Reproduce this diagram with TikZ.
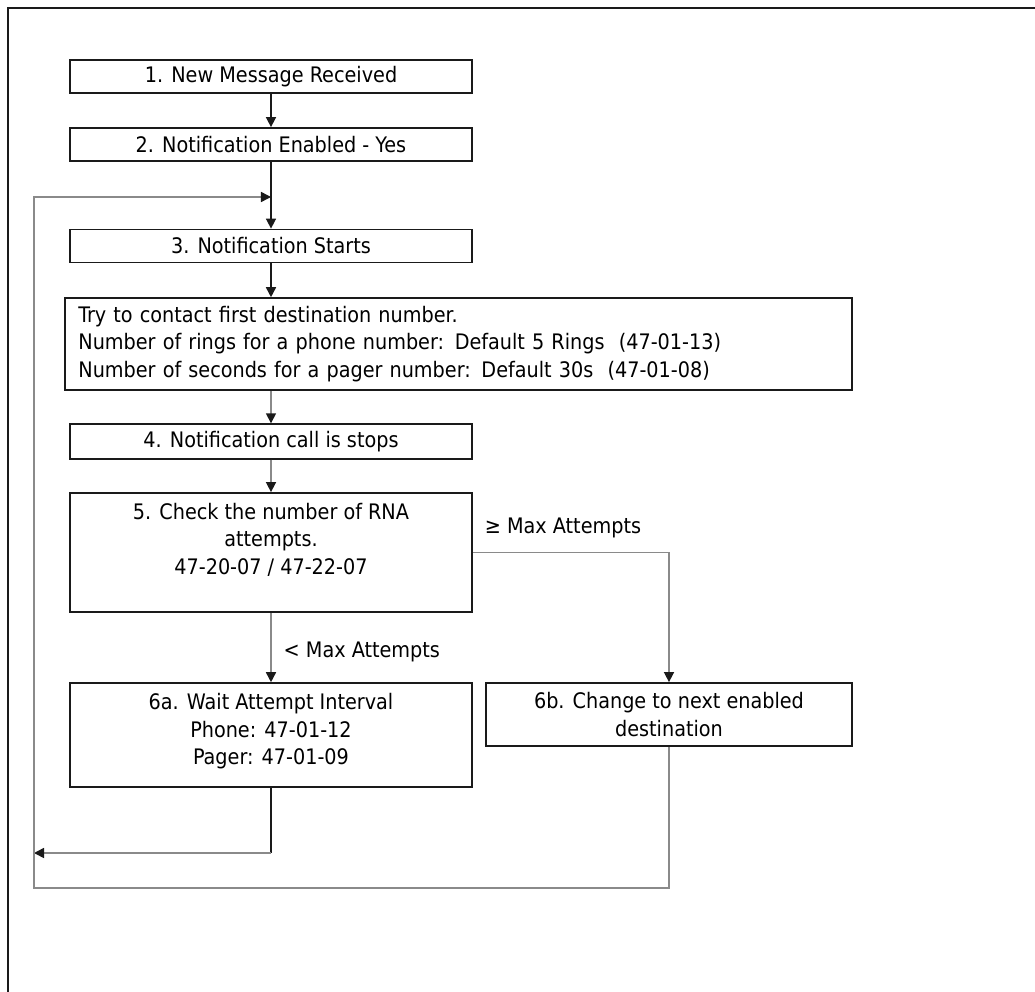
\documentclass[tikz,border=0pt]{standalone}
\usepackage{fontspec}
\setmainfont{DejaVu Sans Condensed}
\usepackage{tikz}
\usetikzlibrary{arrows.meta,calc,positioning}
\definecolor{boxline}{HTML}{1A1A1A}
\definecolor{linkgray}{HTML}{8A8A8A}

\begin{document}
\begin{tikzpicture}[x=0.025cm,y=-0.025cm,
      stepbox/.style={draw=boxline,line width=1.1pt,minimum width=10.05cm,minimum height=0.83cm,inner sep=0pt,align=center,font=\fontsize{15.2}{19.6}\selectfont},
      arr/.style={-{Triangle[length=2.5mm,width=2.5mm]},line width=1.1pt,color=boxline},
      arrg/.style={-{Triangle[length=2.5mm,width=2.5mm,color=boxline]},line width=1.1pt,color=linkgray},
      lbl/.style={font=\fontsize{15.2}{19.6}\selectfont,inner sep=0pt,text=black}
    ]
      \useasboundingbox (0,0) rectangle (1035,992);
      \draw[line width=1.3pt,color=boxline] (8,992) -- (8,8) -- (1035,8);

      \node[stepbox] (n1) at (271,76.5) {1. New Message Received};
      \node[stepbox] (n2) at (271,144.5) {2. Notification Enabled - Yes};
      \node[stepbox] (n3) at (271,246) {3. Notification Starts};
      \node[stepbox,minimum width=19.675cm,minimum height=2.3cm,text width=19.0cm,align=left,inner xsep=0.33cm] (try) at (458.5,344)
        {Try to contact first destination number.\\
         Number of rings for a phone number: Default 5 Rings~ (47-01-13)\\
         Number of seconds for a pager number: Default 30s~ (47-01-08)};
      \node[stepbox,minimum height=0.87cm] (n4) at (271,441.5) {4. Notification call is stops};
      \node[stepbox,minimum height=2.98cm] (n5) at (271,552.5) {5. Check the number of RNA\\attempts.\\47-20-07 / 47-22-07\\ \mbox{}};
      \node[stepbox,minimum height=2.6cm] (n6a) at (271,735) {6a. Wait Attempt Interval\\Phone: 47-01-12\\Pager: 47-01-09\\[-11pt] \mbox{}};
      \node[stepbox,minimum width=9.15cm,minimum height=1.58cm] (n6b) at (669,714.5) {6b. Change to next enabled\\destination};

      \coordinate (back6a) at (34,853);
      \coordinate (low) at (34,888);
      \coordinate (top) at (34,197);

      \draw[arr] (n1) -- (n2);
      \draw[arr] (n2) -- (n3);
      \draw[arr] (n3.south) -- (n3.south |- try.north);
      \draw[arrg] (try.south -| n4.north) -- (n4.north);
      \draw[arrg] (n4) -- (n5);
      \draw[arrg] (n5) -- node[lbl,pos=0.56,anchor=west,xshift=8.5pt] {< Max Attempts} (n6a);
      \draw[arrg] (n5.east) -| node[lbl,pos=0,anchor=west,xshift=8pt,yshift=17.5pt] {≥ Max Attempts} (n6b.north);
      \draw[color=boxline,line width=1.1pt] (n6a.south) -- (n6a.south |- back6a);
      \draw[arrg] (n6a.south |- back6a) -- (back6a);
      \draw[arrg] (n6b.south) |- (low) -- (top) -- (top -| n2.south);
    \end{tikzpicture}
\end{document}
